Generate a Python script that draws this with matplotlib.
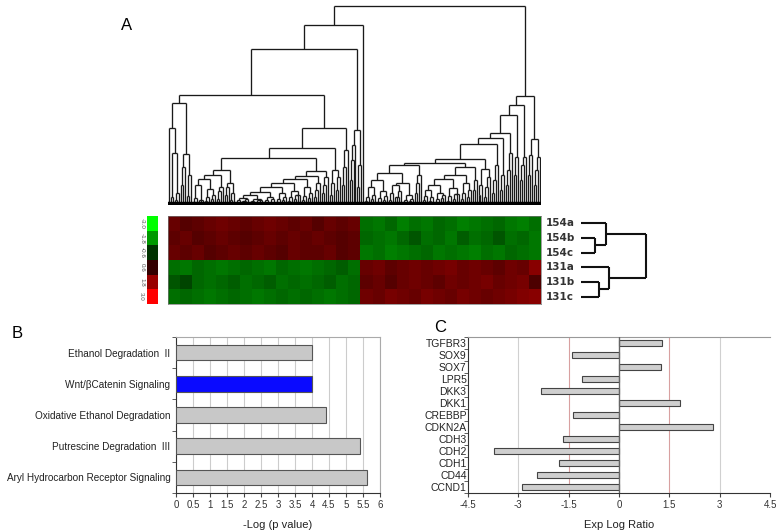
import numpy as np
import matplotlib
matplotlib.use('Agg')
import matplotlib.pyplot as plt
from matplotlib.collections import LineCollection
from matplotlib.colors import LinearSegmentedColormap

plt.rcParams['font.family'] = ['Liberation Sans', 'DejaVu Sans']

# ---- gene dendrogram (merge heights in px above the leaves) ----
# node = (height, left, right), 0 = leaf, [h1, h2, ...] = chain of merges
A1 = (77, 0, (52, [8], [5, 12]))
A2 = (51, [20, 38], [9, 30])
A = (102, A1, A2)
C1a = (26, (20, [3, 7], [5, 4]), (16, [4, 8], [6, 10]))
C1 = (30, C1a, [6, 14, 18])
C2 = (22, [10, 18], [5, 12])
C = (35, C1, C2)
D6 = (10, (7, [2, 5], [4, 3, 6]), (6, [3, 4], [2, 5, 3]))
D5 = (13, D6, (8, [3, 5], [2, 6]))
D4 = (18, D5, (12, [3, 6], [5, 8]))
D3 = (22, D4, (14, [4, 8], [6, 10, 3]))
D2 = (26, D3, (18, [5, 9], [7, 12]))
D1 = (29, D2, [8, 15, 22])
D = (34, D1, [12, 20, 28])
B2 = (47, C, D)
Bd = (35, [10, 22], [15, 28])
B1 = (57, B2, Bd)
Bc = [20, 38, 55]
B = (77, B1, Bc)
LLL = (110, A, B)
LLR = (75, [25, 45, 60], [18, 40])
LL = (156, LLL, LLR)
L = (180, LL, 0)

R9a = (32, (25, (18, [4, 8], [6, 10]), (14, [3, 7], [5, 9])),
       (22, (20, [5, 12], [8, 4, 14]), (10, [3, 5], [4, 6])))
R9 = (40, R9a, [12, 22, 30])
R12 = (26, (20, (15, [5, 9], [4, 8]), (12, [3, 6], [7, 10])), (17, [4, 9], [6, 11, 5]))
R11 = (30, R12, (22, [6, 12], [8, 15]))
R10 = (38, R11, [15, 25])
R8 = (42, R9, R10)
R7 = (46, R8, (36, [10, 20], [8, 18, 28]))
R6 = (61, R7, [12, 25, 40])
R5 = (67, R6, [15, 30])
R4 = (72, R5, [20, 35, 52])
R3 = (90, R4, [30, 48])
R1 = (100, R3, [25, 40, 48])
R2 = (66, [30, 50], [20, 35, 48])
Rt = (109, R1, R2)
gene_tree = (199, L, Rt)

# ---- sample dendrogram ----
samples = ['154a', '154b', '154c', '131a', '131b', '131c']
sample_tree = (65, (25, 0, (14, 0, 0)), (28, 0, (18, 0, 0)))

# ---- heatmap values (rows = samples) ----
heat = [
    [1.2, 1.0, 1.1, 1.2, 1.3, 1.2, 1.1, 1.2, 1.3, 1.2, 1.1, 1.2, 1.0, 1.2, 1.1, 1.2,
     -1.3, -1.4, -1.2, -1.5, -1.3, -1.4, -1.2, -1.3, -1.5, -1.4, -1.3, -1.2, -1.4, -1.5, -1.3],
    [1.1, 1.2, 1.0, 1.1, 1.2, 1.1, 1.0, 1.1, 1.2, 1.1, 1.2, 1.1, 1.2, 1.1, 1.0, 1.1,
     -1.2, -1.3, -1.4, -1.2, -1.0, -1.3, -1.2, -1.4, -1.1, -1.3, -1.2, -1.0, -1.3, -1.2, -1.4],
    [1.2, 1.1, 1.2, 1.0, 1.1, 1.2, 1.1, 1.2, 1.1, 1.0, 1.2, 1.1, 1.1, 1.2, 1.0, 1.1,
     -1.4, -1.3, -1.5, -1.4, -1.3, -1.2, -1.4, -1.3, -1.4, -1.5, -1.3, -1.4, -1.2, -1.3, -1.4],
    [-1.3, -1.4, -1.2, -1.3, -1.4, -1.3, -1.2, -1.3, -1.4, -1.2, -1.3, -1.4, -1.3, -1.2, -1.1, -1.3,
     1.2, 1.3, 1.1, 1.2, 1.3, 1.2, 1.3, 1.4, 1.2, 1.3, 1.2, 1.1, 1.3, 1.2, 1.6],
    [-1.0, -0.8, -1.2, -1.3, -1.2, -1.1, -1.3, -1.2, -1.1, -1.3, -1.2, -1.3, -1.2, -1.1, -1.3, -1.2,
     1.1, 1.2, 1.0, 1.2, 1.3, 1.2, 1.1, 1.3, 1.2, 1.3, 1.4, 1.2, 1.3, 1.4, 0.9],
    [-1.3, -1.2, -1.3, -1.4, -1.3, -1.2, -1.3, -1.4, -1.3, -1.2, -1.3, -1.2, -1.3, -1.4, -1.3, -1.2,
     1.3, 1.2, 1.4, 1.3, 1.2, 1.4, 1.3, 1.2, 1.4, 1.3, 1.2, 1.3, 1.4, 1.5, 1.6],
]
scale_vals = [-3.0, -1.8, -0.6, 0.6, 1.8, 3.0]

# ---- panel B ----
pathways = ['Ethanol Degradation  II', 'Wnt/\u03b2Catenin Signaling',
            'Oxidative Ethanol Degradation', 'Putrescine Degradation  III',
            'Aryl Hydrocarbon Receptor Signaling']
neglogp = [4.01, 4.01, 4.40, 5.40, 5.61]

# ---- panel C ----
genes = ['TGFBR3', 'SOX9', 'SOX7', 'LPR5', 'DKK3', 'DKK1', 'CREBBP', 'CDKN2A',
         'CDH3', 'CDH2', 'CDH1', 'CD44', 'CCND1']
ratios = [1.29, -1.39, 1.26, -1.10, -2.31, 1.83, -1.36, 2.79,
          -1.67, -3.73, -1.78, -2.45, -2.89]

W, H = 782, 531
fig = plt.figure(figsize=(W / 100, H / 100), dpi=100)


def box(l, t, r, b):
    return [l / W, 1 - b / H, (r - l) / W, (b - t) / H]


def build(node, segs, count):
    if isinstance(node, int):
        x = count[0]
        count[0] += 1
        return x, 0
    if isinstance(node, list):
        x, h = build(0, segs, count)
        for hh in node:
            x2, _ = build(0, segs, count)
            hn = max(hh, h)
            segs += [[(x, h), (x, hn)], [(x2, 0), (x2, hn)], [(x, hn), (x2, hn)]]
            x, h = (x + x2) / 2, hn
        return x, h
    hh, left, right = node
    xl, hl = build(left, segs, count)
    xr, hr = build(right, segs, count)
    hn = max(hh, hl, hr)
    segs += [[(xl, hl), (xl, hn)], [(xr, hr), (xr, hn)], [(xl, hn), (xr, hn)]]
    return (xl + xr) / 2, hn


# gene dendrogram
segs = []
cnt = [0]
build(gene_tree, segs, cnt)
n_leaves = cnt[0]
ax_d = fig.add_axes(box(168, 5, 541, 205))
ax_d.add_collection(LineCollection(segs, colors='#1a1a1a', linewidths=0.95))
ax_d.plot([-0.5, n_leaves - 0.5], [1.5, 1.5], color='black', lw=3.2,
          solid_capstyle='butt')
ax_d.set_xlim(-0.5, n_leaves - 0.5)
ax_d.set_ylim(0, 200)
ax_d.axis('off')

# heatmap
cmap = LinearSegmentedColormap.from_list('gr', ['#00ff00', '#000000', '#ff0000'])
ax_h = fig.add_axes(box(168, 216, 541, 304))
ax_h.imshow(np.array(heat), cmap=cmap, vmin=-3, vmax=3, aspect='auto',
            interpolation='nearest')
ax_h.set_xticks([])
ax_h.set_yticks([])
for s in ax_h.spines.values():
    s.set_color('#777777')
    s.set_linewidth(0.5)

# colour scale
ax_c = fig.add_axes(box(147, 216, 158, 304))
ax_c.imshow(np.array(scale_vals).reshape(-1, 1), cmap=cmap, vmin=-3, vmax=3,
            aspect='auto')
ax_c.set_xticks([])
ax_c.set_yticks([])
for s in ax_c.spines.values():
    s.set_visible(False)
for i, v in enumerate(scale_vals):
    ax_c.text(-0.75, i, '%.1f' % v, rotation=270, ha='right', va='center',
              fontsize=4.5, color='#555555')

# sample labels
for i, s in enumerate(samples):
    ax_h.text(1.012, 1 - (i + 0.5) / 6, s, transform=ax_h.transAxes,
              ha='left', va='center', fontsize=7.5, fontweight='bold',
              family='DejaVu Sans', color='#333333')

# sample dendrogram
rsegs = []
build(sample_tree, rsegs, [0])
rsegs = [[(p[1], p[0]) for p in sg] for sg in rsegs]
ax_r = fig.add_axes(box(581, 216, 650, 304))
ax_r.add_collection(LineCollection(rsegs, colors='#111111', linewidths=1.5))
ax_r.set_xlim(0, 69)
ax_r.set_ylim(5.5, -0.5)
ax_r.axis('off')

# panel B
ax_b = fig.add_axes(box(176, 337, 380, 493))
cols = ['#c8c8c8'] * len(pathways)
cols[1] = '#0a0aff'
ax_b.barh(range(len(pathways)), neglogp, height=0.5, color=cols,
          edgecolor='#555555', linewidth=0.8, zorder=3)
ax_b.set_xlim(0, 6)
ax_b.set_ylim(len(pathways) - 0.5, -0.5)
xt = np.arange(0, 6.01, 0.5)
ax_b.set_xticks(xt)
ax_b.set_xticklabels(['%g' % v for v in xt], fontsize=7, color='#333333')
ax_b.set_yticks(range(len(pathways)))
ax_b.set_yticklabels(pathways, fontsize=7.2, color='#222222')
ax_b.tick_params(axis='y', length=0, pad=4)
ax_b.set_yticks(np.arange(-0.5, len(pathways)), minor=True)
ax_b.tick_params(axis='y', which='minor', length=3, color='#444444')
ax_b.tick_params(axis='x', length=3, color='#444444', pad=2)
ax_b.grid(axis='x', color='#cccccc', lw=0.8, zorder=0)
for k in ['left', 'bottom']:
    ax_b.spines[k].set_color('#333333')
for k in ['top', 'right']:
    ax_b.spines[k].set_color('#aaaaaa')
ax_b.set_xlabel('-Log (p value)', fontsize=8, color='#222222', labelpad=7)

# panel C
ax_g = fig.add_axes(box(468, 337, 770, 493))
ax_g.barh(range(len(genes)), ratios, height=0.5, color='#cfcfcf',
          edgecolor='#444444', linewidth=0.8, zorder=3)
ax_g.set_xlim(-4.5, 4.5)
ax_g.set_ylim(len(genes) - 0.5, -0.5)
gt = [-4.5, -3, -1.5, 0, 1.5, 3, 4.5]
ax_g.set_xticks(gt)
ax_g.set_xticklabels(['%g' % v for v in gt], fontsize=7, color='#333333')
ax_g.set_yticks(range(len(genes)))
ax_g.set_yticklabels(genes, fontsize=7.5, color='#222222')
ax_g.tick_params(axis='y', length=0, pad=1)
ax_g.set_yticks(np.arange(-0.5, len(genes)), minor=True)
ax_g.tick_params(axis='y', which='minor', length=3, color='#444444')
ax_g.tick_params(axis='x', length=3, color='#444444', pad=2)
for v in [-3, 3]:
    ax_g.axvline(v, color='#d0d0d0', lw=0.8, zorder=0)
for v in [-1.5, 1.5]:
    ax_g.axvline(v, color='#d8a0a0', lw=0.8, zorder=0)
ax_g.axvline(0, color='#666666', lw=1, zorder=4)
ax_g.spines['right'].set_visible(False)
ax_g.spines['top'].set_color('#999999')
for k in ['left', 'bottom']:
    ax_g.spines[k].set_color('#333333')
ax_g.set_xlabel('Exp Log Ratio', fontsize=8, color='#222222', labelpad=7)

fig.text(121 / W, 1 - 26 / H, 'A', fontsize=12, va='center')
fig.text(12 / W, 1 - 334 / H, 'B', fontsize=12, va='center')
fig.text(434 / W, 1 - 328 / H, 'C', fontsize=12, va='center')

fig.savefig('out.png', dpi=100)
